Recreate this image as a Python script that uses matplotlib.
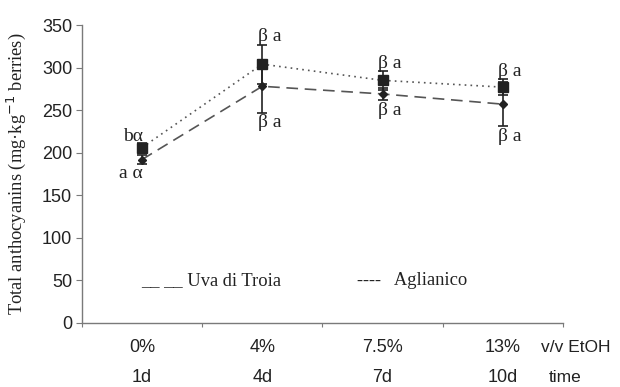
import matplotlib
matplotlib.use("Agg")
import matplotlib.pyplot as plt
import matplotlib.transforms as mtransforms

# Data
ethanol = ["0%", "4%", "7.5%", "13%"]
days = ["1d", "4d", "7d", "10d"]
aglianico = [206, 304, 285, 277]
aglianico_err = [5, 23, 11, 9]
uva = [192, 278, 269, 257]
uva_err = [5, 31, 7, 26]
labels_top = ["bα", "β a", "β a", "β a"]
labels_bottom = ["a α", "β a", "β a", "β a"]

serif = "Liberation Serif"
sans = "Liberation Sans"
ink = "#222222"
axis_col = "#7a7a7a"

fig = plt.figure(figsize=(6.2, 3.87), dpi=100)
ax = fig.add_axes([0.132, 0.1654, 0.776, 0.770])

x = list(range(len(ethanol)))

ax.plot(x, aglianico, linestyle=(0, (1, 2.5)), color="#555555", lw=1.2, zorder=2)
ax.plot(x, uva, linestyle=(0, (7, 4)), color="#555555", lw=1.2, zorder=2)

ax.errorbar(x, aglianico, yerr=aglianico_err, fmt="s", color=ink, ms=6.5,
            ecolor=ink, elinewidth=1.2, capsize=3.5, capthick=1.2, zorder=3)
ax.errorbar(x, uva, yerr=uva_err, fmt="D", color=ink, ms=4.5,
            ecolor=ink, elinewidth=1.2, capsize=3.5, capthick=1.2, zorder=3)

# Significance letters
for i in x:
    top = aglianico[i] + aglianico_err[i]
    bot = uva[i] - uva_err[i]
    dx_top = -0.07 if i == 0 else 0.06
    dx_bot = -0.09 if i == 0 else 0.06
    dy_top = -2 if i == 0 else -1
    ax.text(i + dx_top, top + dy_top, labels_top[i], ha="center", va="bottom",
            fontsize=14, family=serif, color=ink)
    ax.text(i + dx_bot, bot - 2, labels_bottom[i], ha="center", va="top",
            fontsize=14, family=serif, color=ink)

# Legend drawn as text
ax.text(-0.01, 40, "__ __ Uva di Troia", ha="left", va="bottom",
        fontsize=13.3, family=serif, color=ink)
ax.text(1.79, 40, "----   Aglianico", ha="left", va="bottom",
        fontsize=13.3, family=serif, color=ink)

ax.set_xlim(-0.5, 3.5)
ax.set_ylim(0, 350)
ax.set_yticks(range(0, 351, 50))
ax.set_xticks([-0.5, 0.5, 1.5, 2.5, 3.5])
ax.set_xticklabels([])
ax.tick_params(axis="x", length=3, color=axis_col, direction="out")
ax.tick_params(axis="y", length=4, color=axis_col, labelsize=13,
               pad=3, labelcolor=ink)
for lbl in ax.get_yticklabels():
    lbl.set_family(sans)

for s in ["top", "right"]:
    ax.spines[s].set_visible(False)
for s in ["left", "bottom"]:
    ax.spines[s].set_color(axis_col)
    ax.spines[s].set_linewidth(1.0)

# Two-row category labels
trans = mtransforms.blended_transform_factory(ax.transData, fig.transFigure)
for i in x:
    ax.text(i, 1 - 348 / 387, ethanol[i], transform=trans, ha="center",
            va="center", fontsize=13, family=sans, color=ink)
    ax.text(i, 1 - 378 / 387, days[i], transform=trans, ha="center",
            va="center", fontsize=13, family=sans, color=ink)
fig.text(541 / 620, 1 - 348 / 387, "v/v EtOH", ha="left", va="center",
         fontsize=12.5, family=sans, color=ink)
fig.text(549 / 620, 1 - 378 / 387, "time", ha="left", va="center",
         fontsize=12.5, family=sans, color=ink)

ax.set_ylabel("Total anthocyanins (mg·kg$^{-1}$ berries)", family=serif,
              fontsize=13.3, color=ink, labelpad=10)

fig.savefig("out.png", dpi=100, facecolor="white")
